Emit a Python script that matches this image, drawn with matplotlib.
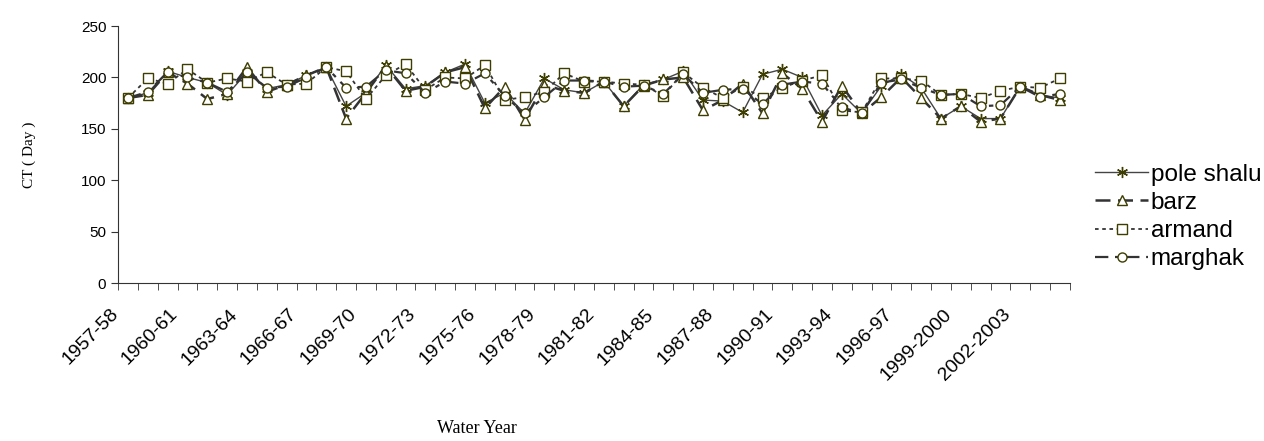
import numpy as np
import matplotlib
matplotlib.use('Agg')
import matplotlib.pyplot as plt
import matplotlib.transforms as mtransforms
from matplotlib.ticker import FixedLocator

# water years 1957-58 ... 2004-2005
years = ['%d-%02d' % (y, (y + 1) % 100) for y in range(1957, 1999)]
years += ['1999-2000', '2000-2001', '2001-2002', '2002-2003', '2003-2004', '2004-2005']

pole_shalu = [180, 185, 206, 200, 195, 183, 205, 189, 193, 202, 210, 172, 185, 212, 189, 192,
              205, 213, 175, 185, 165, 199, 188, 185, 196, 172, 193, 198, 206, 178, 177, 166,
              203, 208, 200, 163, 184, 165, 192, 203, 190, 160, 172, 160, 160, 191, 183, 180]
barz = [180, 183, 205, 194, 179, 184, 210, 186, 193, 202, 210, 160, 185, 211, 187, 191,
        205, 210, 170, 191, 159, 193, 187, 185, 196, 172, 192, 198, 200, 168, 178, 194,
        165, 204, 189, 157, 192, 165, 181, 200, 180, 160, 172, 157, 160, 191, 183, 178]
armand = [180, 199, 194, 208, 195, 199, 196, 205, 193, 194, 210, 206, 179, 202, 213, 188,
          200, 199, 212, 178, 181, 186, 204, 196, 196, 194, 193, 182, 205, 190, 180, 191,
          180, 190, 197, 202, 168, 166, 199, 199, 197, 183, 184, 180, 187, 191, 190, 199]
marghak = [180, 186, 205, 200, 195, 186, 205, 190, 191, 200, 210, 190, 191, 207, 204, 185,
           196, 194, 204, 182, 165, 181, 197, 197, 196, 191, 192, 184, 203, 185, 188, 189,
           174, 193, 196, 194, 171, 165, 195, 198, 190, 183, 184, 172, 173, 191, 181, 184]

x = np.arange(len(years))
mc = '#3d3d00'

fig = plt.figure(figsize=(12.64, 4.41), dpi=100)
ax = fig.add_axes([0.0934, 0.358, 0.753, 0.583])

ax.plot(x, pole_shalu, color='#444444', lw=1.0, ls='-', marker=(6, 2, 0), ms=8,
        mec=mc, mew=1.0, label='pole shalu')
ax.plot(x, barz, color='#333333', lw=1.8, ls=(0, (6, 3)), marker='^', ms=6.5,
        mfc='white', mec=mc, mew=1.0, label='barz')
ax.plot(x, armand, color='#333333', lw=1.3, ls=(0, (2, 2)), marker='s', ms=6.5,
        mfc='white', mec=mc, mew=1.0, label='armand')
ax.plot(x, marghak, color='#333333', lw=1.6, ls=(0, (6, 3, 2, 3)), marker='o', ms=6.5,
        mfc='white', mec=mc, mew=1.0, label='marghak')

ax.set_xlim(-0.5, len(years) - 0.5)
ax.set_ylim(0, 250)
ax.set_yticks([0, 50, 100, 150, 200, 250])
for s in ['top', 'right']:
    ax.spines[s].set_visible(False)
ax.spines['left'].set_color('#333333')
ax.spines['bottom'].set_color('#333333')

# category boundary ticks, labels every third year (drawn as text so they can be nudged)
ax.set_xticks([])
ax.xaxis.set_minor_locator(FixedLocator(np.arange(-0.5, len(years), 1.0)))
ax.tick_params(axis='x', which='minor', length=5, direction='out', color='#333333')
ax.tick_params(axis='y', length=5, direction='out', color='#333333', labelsize=11)
for t in ax.get_yticklabels():
    t.set_family('Liberation Sans')

tr = ax.get_xaxis_transform() + mtransforms.ScaledTranslation(-0.12, -0.285, fig.dpi_scale_trans)
for i in x[::3]:
    ax.text(i, 0, years[i], transform=tr, rotation=45, ha='right', va='center',
            rotation_mode='anchor', fontsize=14, family='Liberation Sans')

ax.set_ylabel('CT ( Day )', family='Liberation Serif', fontsize=11, labelpad=32)
ax.set_xlabel('Water Year', family='Liberation Serif', fontsize=13)
ax.xaxis.set_label_coords(0.377, -0.533)

ax.legend(loc='center left', bbox_to_anchor=(1095 / 1264, 1 - 217 / 441),
          bbox_transform=fig.transFigure, frameon=False,
          prop={'family': 'Liberation Sans', 'size': 17.5}, handlelength=2.2,
          handletextpad=0.1, labelspacing=0.25, borderaxespad=0, borderpad=0)

fig.savefig('out.png', dpi=100)
